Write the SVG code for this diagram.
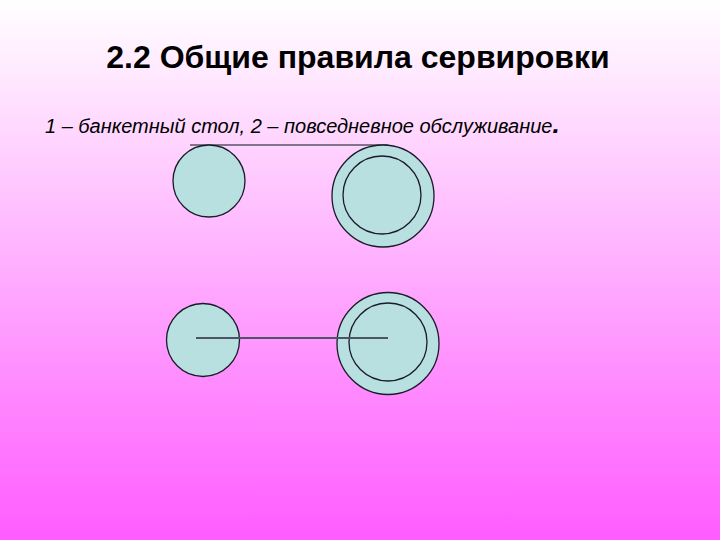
<svg xmlns="http://www.w3.org/2000/svg" width="720" height="540" viewBox="0 0 720 540">
<defs>
<linearGradient id="bg" x1="0" y1="0" x2="0" y2="1">
<stop offset="0" stop-color="#FFFFFF"/>
<stop offset="1" stop-color="#FF5CFF"/>
</linearGradient>
<style>
.plate{fill:#B9E0E0;stroke:#1a1a2a;stroke-width:1.3}
.inner{fill:none;stroke:#1a1a2a;stroke-width:1.3}
.title{font-family:"Liberation Sans",Arial,sans-serif;font-weight:bold;font-size:32px;fill:#000}
.sub{font-family:"Liberation Sans",Arial,sans-serif;font-style:italic;font-size:20px;fill:#000}
</style>
</defs>
<rect width="720" height="540" fill="url(#bg)"/>
<text class="title" x="358" y="68" text-anchor="middle">2.2 Общие правила сервировки</text>
<text class="sub" x="45" y="133">1 – банкетный стол, 2 – повседневное обслуживание<tspan font-weight="bold" font-size="26px">.</tspan></text>
<g id="connectors">
<line x1="190" y1="145" x2="388" y2="145" stroke="#555566" stroke-width="1.3"/>
</g>
<g id="plate1"><circle class="plate" cx="209" cy="181" r="36"/></g>
<g id="plate2"><circle class="plate" cx="383" cy="196" r="51"/><circle class="inner" cx="382" cy="195" r="39"/></g>
<g id="plate3"><circle class="plate" cx="203" cy="340" r="36.5"/></g>
<g id="plate4"><circle class="plate" cx="388" cy="343.5" r="51"/><circle class="inner" cx="388" cy="342" r="39"/></g>
<g id="connectors2">
<line x1="196" y1="338" x2="388" y2="338" stroke="#4a5566" stroke-width="2"/>
</g>
</svg>
